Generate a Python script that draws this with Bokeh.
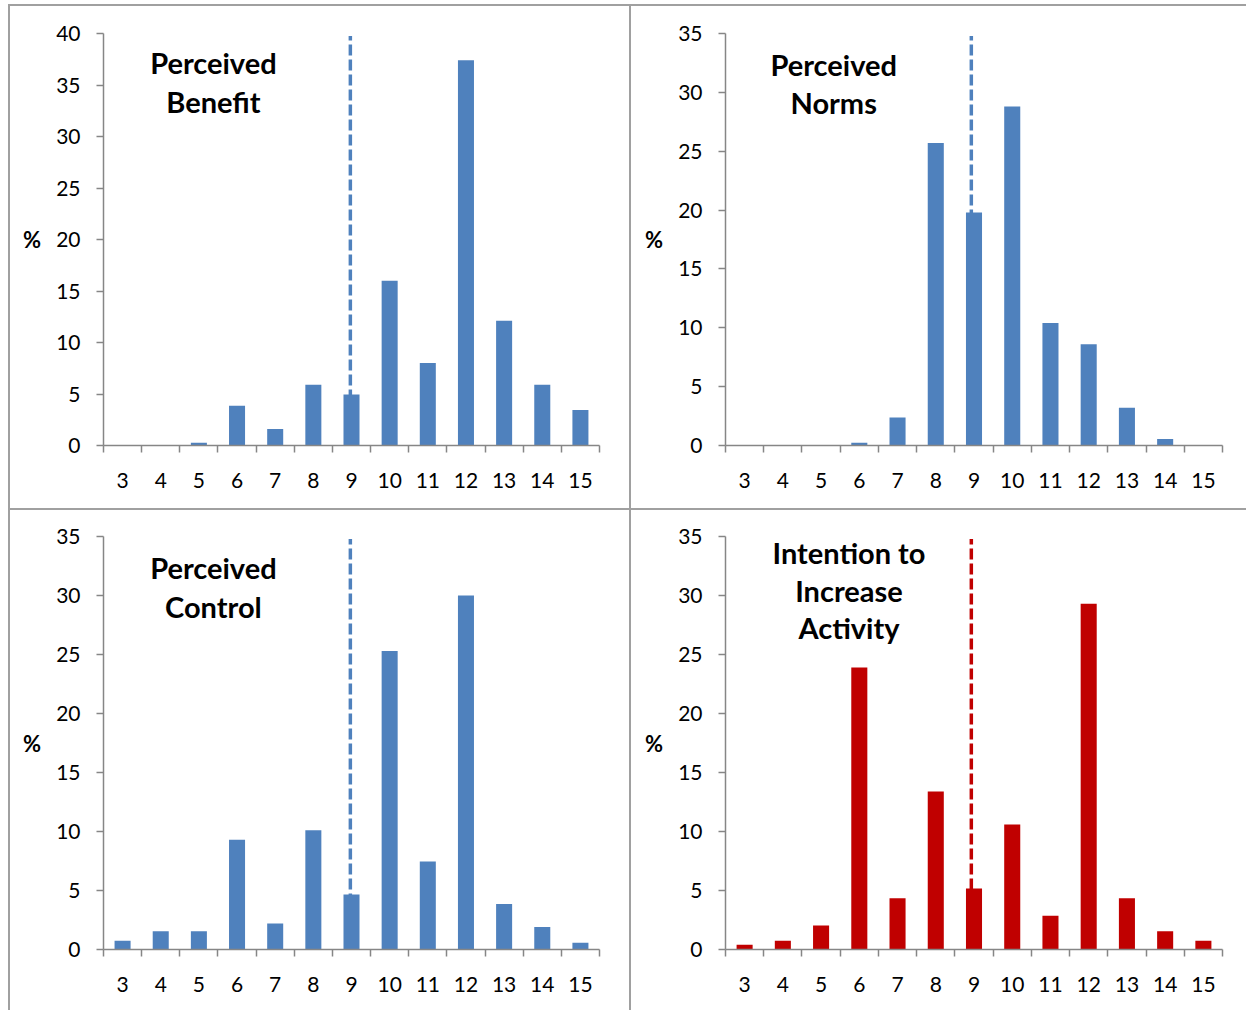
from bokeh.plotting import figure
from bokeh.layouts import gridplot
from bokeh.models import FixedTicker, Label
from bokeh.embed import file_html
from bokeh.resources import INLINE

scores = [3, 4, 5, 6, 7, 8, 9, 10, 11, 12, 13, 14, 15]
score_labels = [str(s) for s in scores]

benefit = [0.05, 0.05, 0.26, 3.85, 1.6, 5.9, 4.95, 16.0, 8.0, 37.4, 12.1, 5.9, 3.45]
norms = [0.0, 0.0, 0.05, 0.23, 2.37, 25.7, 19.8, 28.8, 10.4, 8.6, 3.2, 0.56, 0.05]
control = [0.74, 1.55, 1.55, 9.3, 2.2, 10.1, 4.66, 25.3, 7.45, 30.0, 3.85, 1.9, 0.57]
intention = [0.4, 0.74, 2.03, 23.9, 4.35, 13.4, 5.17, 10.6, 2.85, 29.3, 4.35, 1.55, 0.74]

y_max = [40, 35, 35, 35]
titles = [["Perceived", "Benefit"], ["Perceived", "Norms"], ["Perceived", "Control"],
          ["Intention to", "Increase", "Activity"]]
ref_score = [8.97, 8.93, 8.97, 8.93]

BLUE = "#4f81bd"
RED = "#c00000"
GRAY = "#868686"
FONT = "Lato"


def panel(values, ymax, title, ref, color, w, h, bl, bt, br, bb, tx, ty, dy):
    p = figure(width=w, height=h, x_range=(2.5, 15.5), y_range=(0, ymax),
               output_backend="svg", toolbar_location=None,
               min_border_left=bl, min_border_top=bt, min_border_right=br,
               min_border_bottom=bb)
    p.outline_line_color = None
    p.outline_line_alpha = 0
    p.xgrid.visible = False
    p.ygrid.visible = False
    p.background_fill_color = None
    p.border_fill_color = None
    p.styles = {"background-color": "white"}

    p.segment(x0=[ref], y0=[0], x1=[ref], y1=[ymax * 0.994], line_color=color,
              line_width=3.5, line_dash="11 4")
    p.vbar(x=scores, top=values, width=0.42, fill_color=color, line_color=None)

    xa = p.xaxis[0]
    xa.ticker = FixedTicker(ticks=scores, minor_ticks=[s - 0.5 for s in scores] + [15.5])
    xa.major_label_overrides = {s: l for s, l in zip(scores, score_labels)}
    xa.axis_line_color = GRAY
    xa.axis_line_width = 1.5
    xa.major_tick_line_color = None
    xa.major_tick_out = 0
    xa.major_tick_in = 0
    xa.minor_tick_line_color = GRAY
    xa.minor_tick_line_width = 1.5
    xa.minor_tick_out = 7
    xa.minor_tick_in = 0
    xa.major_label_text_font = FONT
    xa.major_label_text_font_size = "21px"
    xa.major_label_text_color = "black"
    xa.major_label_standoff = 20

    ya = p.yaxis[0]
    ya.ticker = FixedTicker(ticks=list(range(0, ymax + 1, 5)))
    ya.axis_line_color = GRAY
    ya.axis_line_width = 1.5
    ya.major_tick_line_color = GRAY
    ya.major_tick_line_width = 1.5
    ya.major_tick_out = 7
    ya.major_tick_in = 0
    ya.minor_tick_line_color = None
    ya.major_label_text_font = FONT
    ya.major_label_text_font_size = "21px"
    ya.major_label_text_color = "black"
    ya.major_label_standoff = 16
    ya.axis_label = "%"
    ya.axis_label_orientation = "horizontal"
    ya.axis_label_text_font = FONT
    ya.axis_label_text_font_style = "bold"
    ya.axis_label_text_font_size = "22px"
    ya.axis_label_text_color = "black"
    ya.axis_label_standoff = 12

    for i, line in enumerate(title):
        p.add_layout(Label(x=tx, y=ty - i * dy, text=line, text_align="center",
                           text_baseline="middle", text_font=FONT,
                           text_font_style="bold", text_font_size="29px",
                           text_color="black"))
    return p


p1 = panel(benefit, y_max[0], titles[0], ref_score[0], BLUE, 619, 502, 93, 27, 30, 63,
           5.38, 37.2, 3.8)
p2 = panel(norms, y_max[1], titles[1], ref_score[1], BLUE, 615, 502, 94, 27, 24, 63,
           5.33, 32.4, 3.3)
p3 = panel(control, y_max[2], titles[2], ref_score[2], BLUE, 619, 500, 93, 26, 30, 61,
           5.38, 32.4, 3.3)
p4 = panel(intention, y_max[3], titles[3], ref_score[3], RED, 615, 500, 94, 26, 24, 61,
           5.73, 33.65, 3.2)

grid = gridplot([[p1, p2], [p3, p4]], toolbar_location=None)
grid.spacing = 2
grid.styles = {"background-color": "#a0a0a0", "padding": "2px 0 0 2px",
               "margin": "4px 0 0 8px"}

open("out.html", "w").write(file_html(grid, INLINE))
